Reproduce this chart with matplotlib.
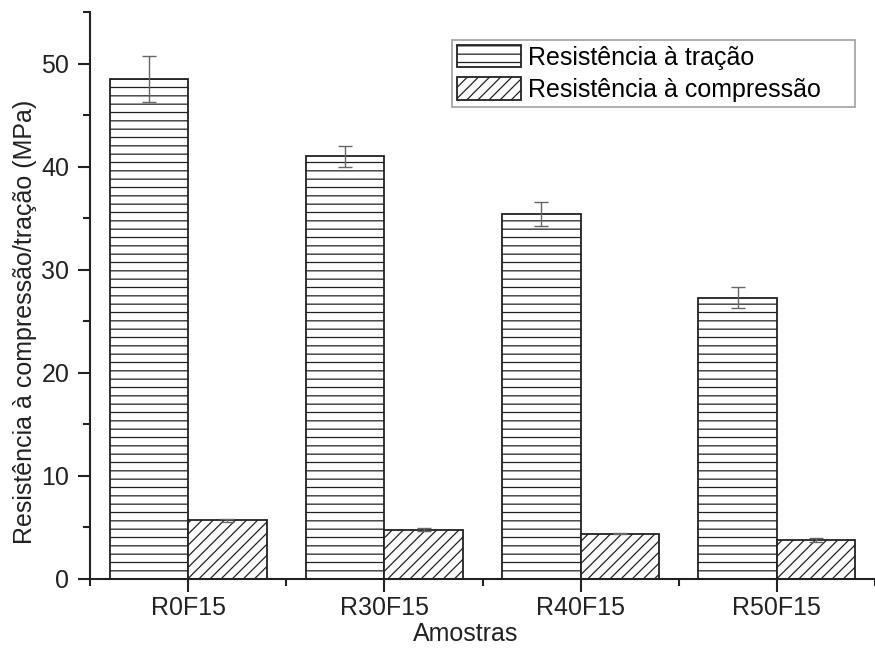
import matplotlib
matplotlib.use("Agg")
import matplotlib.pyplot as plt
import numpy as np
from matplotlib.ticker import MultipleLocator

plt.rcParams['font.family'] = ['Liberation Sans', 'DejaVu Sans']
plt.rcParams['hatch.linewidth'] = 0.9
plt.rcParams['hatch.color'] = '#555555'

amostras = ["R0F15", "R30F15", "R40F15", "R50F15"]
tracao = [48.5, 41.0, 35.4, 27.3]
tracao_err = [2.25, 1.0, 1.15, 1.0]
compressao = [5.7, 4.8, 4.4, 3.8]
compressao_err = [0.15, 0.12, 0.08, 0.2]

fig = plt.figure(figsize=(8.75, 6.51), dpi=100)
ax = fig.add_axes([0.103, 0.1106, 0.897, 0.871])

x = np.arange(len(amostras))
w = 0.4
err_kw = dict(ecolor='#666666', elinewidth=1.0, capsize=5, capthick=1.0)

ax.bar(x - w / 2, tracao, w, yerr=tracao_err, color='white', edgecolor='#222222',
       linewidth=1.3, hatch='--', label='Resistência à tração', error_kw=err_kw)
ax.bar(x + w / 2, compressao, w, yerr=compressao_err, color='white', edgecolor='#222222',
       linewidth=1.3, hatch='///', label='Resistência à compressão', error_kw=err_kw)

ax.set_xlim(-0.5, 3.46)
ax.set_ylim(0, 55)
ax.set_xticks(x)
ax.set_xticklabels(amostras)
ax.set_xticks(np.arange(-0.5, 3.6, 1.0), minor=True)
ax.yaxis.set_major_locator(MultipleLocator(10))
ax.yaxis.set_minor_locator(MultipleLocator(5))

for s in ['top', 'right']:
    ax.spines[s].set_visible(False)
for s in ['left', 'bottom']:
    ax.spines[s].set_linewidth(1.5)
    ax.spines[s].set_color('#222222')

fs = 18
ax.tick_params(axis='both', which='major', direction='out', length=9, width=1.5,
               labelsize=fs, colors='#222222')
ax.tick_params(axis='y', which='major', pad=6)
ax.tick_params(axis='both', which='minor', direction='out', length=5, width=1.5,
               colors='#222222')

ax.set_xlabel('Amostras', fontsize=fs, color='#222222')
ax.xaxis.set_label_coords(0.478, -0.075)
ax.set_ylabel('Resistência à compressão/tração (MPa)', fontsize=fs, color='#222222')
ax.yaxis.set_label_coords(-0.068, 0.453)

leg = ax.legend(loc='upper left', bbox_to_anchor=(0.461, 0.80, 0.5135, 0.1506),
                mode='expand', fontsize=fs,
                frameon=True, fancybox=False, edgecolor='#888888',
                handlelength=2.55, handleheight=1.0, handletextpad=0.3,
                borderpad=0.2, labelspacing=0.3, borderaxespad=0.0)
leg.get_frame().set_linewidth(1.2)

fig.savefig('out.png', dpi=100)
